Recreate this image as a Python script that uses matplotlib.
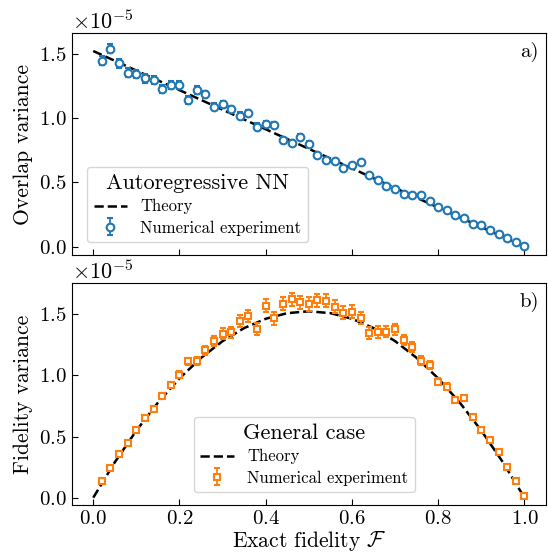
import matplotlib
matplotlib.use("Agg")
import matplotlib.pyplot as plt
import numpy as np

plt.rcParams['font.family'] = 'serif'
plt.rcParams['font.serif'] = ['cmr10', 'DejaVu Serif']
plt.rcParams['mathtext.fontset'] = 'cm'
plt.rcParams['axes.unicode_minus'] = False
plt.rcParams['axes.formatter.use_mathtext'] = True

# ---- data (values in units of 1e-5) ----
fid = [0.02, 0.04, 0.06, 0.08, 0.10, 0.12, 0.14, 0.16, 0.18, 0.20,
       0.22, 0.24, 0.26, 0.28, 0.30, 0.32, 0.34, 0.36, 0.38, 0.40,
       0.42, 0.44, 0.46, 0.48, 0.50, 0.52, 0.54, 0.56, 0.58, 0.60,
       0.62, 0.64, 0.66, 0.68, 0.70, 0.72, 0.74, 0.76, 0.78, 0.80,
       0.82, 0.84, 0.86, 0.88, 0.90, 0.92, 0.94, 0.96, 0.98, 1.00]

overlap_var = [1.449, 1.540, 1.430, 1.355, 1.343, 1.310, 1.300, 1.226, 1.260, 1.260,
               1.143, 1.220, 1.187, 1.090, 1.110, 1.070, 1.020, 1.040, 0.935, 0.955,
               0.948, 0.830, 0.810, 0.855, 0.800, 0.714, 0.675, 0.670, 0.613, 0.636,
               0.660, 0.558, 0.520, 0.473, 0.449, 0.408, 0.400, 0.403, 0.358, 0.307,
               0.286, 0.247, 0.221, 0.177, 0.169, 0.130, 0.099, 0.070, 0.037, 0.005]
overlap_err = [0.035, 0.035, 0.035, 0.033, 0.033, 0.032, 0.032, 0.031, 0.031, 0.030,
               0.030, 0.029, 0.029, 0.028, 0.028, 0.027, 0.027, 0.026, 0.026, 0.025,
               0.024, 0.023, 0.022, 0.021, 0.020, 0.018, 0.016, 0.015, 0.014, 0.013,
               0.012, 0.012, 0.011, 0.011, 0.010, 0.010, 0.010, 0.009, 0.009, 0.009,
               0.008, 0.008, 0.008, 0.007, 0.007, 0.007, 0.006, 0.006, 0.005, 0.005]

fidelity_var = [0.134, 0.240, 0.357, 0.450, 0.551, 0.650, 0.728, 0.832, 0.922, 1.007,
                1.116, 1.120, 1.206, 1.285, 1.342, 1.353, 1.448, 1.489, 1.378, 1.571,
                1.468, 1.585, 1.623, 1.599, 1.585, 1.614, 1.612, 1.563, 1.514, 1.522,
                1.468, 1.350, 1.358, 1.358, 1.378, 1.290, 1.236, 1.121, 1.086, 0.949,
                0.908, 0.800, 0.818, 0.658, 0.554, 0.472, 0.371, 0.254, 0.137, 0.016]
fidelity_err = [0.008, 0.010, 0.012, 0.014, 0.016, 0.018, 0.020, 0.022, 0.025, 0.028,
                0.030, 0.033, 0.036, 0.040, 0.043, 0.045, 0.048, 0.050, 0.050, 0.052,
                0.052, 0.053, 0.055, 0.055, 0.055, 0.055, 0.055, 0.053, 0.052, 0.052,
                0.050, 0.050, 0.048, 0.046, 0.044, 0.042, 0.040, 0.036, 0.033, 0.030,
                0.027, 0.024, 0.021, 0.018, 0.016, 0.014, 0.012, 0.010, 0.008, 0.006]

theory_a_x = [0.0, 1.0]
theory_a_y = [1.524, 0.0]

theory_b_x = [0.00, 0.05, 0.10, 0.15, 0.20, 0.25, 0.30, 0.35, 0.40, 0.45, 0.50,
              0.55, 0.60, 0.65, 0.70, 0.75, 0.80, 0.85, 0.90, 0.95, 1.00]
theory_b_y = [0.000, 0.290, 0.549, 0.778, 0.976, 1.144, 1.281, 1.388, 1.464, 1.510, 1.525,
              1.510, 1.464, 1.388, 1.281, 1.144, 0.976, 0.778, 0.549, 0.290, 0.000]

scale = 1e-5
fig = plt.figure(figsize=(5.48, 5.54), dpi=100)
ax1 = fig.add_axes([0.1308, 0.5397, 0.8656, 0.4002])
ax2 = fig.add_axes([0.1308, 0.0884, 0.8656, 0.4002], sharex=ax1)

blue = '#1f77b4'
orange = '#ff7f0e'

ax1.plot(theory_a_x, np.array(theory_a_y) * scale, 'k--', lw=1.8, label='Theory', zorder=3)
ax1.errorbar(fid, np.array(overlap_var) * scale, yerr=np.array(overlap_err) * scale,
             fmt='o', mfc='white', mec=blue, color=blue, ms=5.5, mew=1.5, capsize=2.5,
             elinewidth=1.3, capthick=1.3, label='Numerical experiment', zorder=4)

ax2.plot(theory_b_x, np.array(theory_b_y) * scale, 'k--', lw=1.8, label='Theory', zorder=3)
ax2.errorbar(fid, np.array(fidelity_var) * scale, yerr=np.array(fidelity_err) * scale,
             fmt='s', mfc='white', mec=orange, color=orange, ms=5, mew=1.5, capsize=2.5,
             elinewidth=1.3, capthick=1.3, label='Numerical experiment', zorder=4)

ax1.set_xlim(-0.05, 1.05)
ax1.set_ylim(-0.065e-5, 1.662e-5)
ax2.set_ylim(-0.06e-5, 1.754e-5)

for ax in (ax1, ax2):
    ax.tick_params(direction='in', labelsize=15, length=4)
    ax.set_yticks([0.0, 0.5e-5, 1.0e-5, 1.5e-5])
    ax.yaxis.get_offset_text().set_fontsize(16)
ax2.set_xticks([0.0, 0.2, 0.4, 0.6, 0.8, 1.0])
plt.setp(ax1.get_xticklabels(), visible=False)

ax1.set_ylabel('Overlap variance', fontsize=15.5, labelpad=4)
ax2.set_ylabel('Fidelity variance', fontsize=15.5, labelpad=4)
ax2.set_xlabel(r'Exact fidelity $\mathcal{F}$', fontsize=15.5, labelpad=1)

ax1.text(0.985, 0.96, 'a)', transform=ax1.transAxes, ha='right', va='top', fontsize=15)
ax2.text(0.985, 0.96, 'b)', transform=ax2.transAxes, ha='right', va='top', fontsize=15)

leg1 = ax1.legend(loc='lower left', title='Autoregressive NN', fontsize=12,
                  title_fontsize=16, bbox_to_anchor=(0.015, 0.02), labelspacing=0.35)
leg2 = ax2.legend(loc='lower center', title='General case', fontsize=12,
                  title_fontsize=16, bbox_to_anchor=(0.49, 0.02), labelspacing=0.35)

fig.savefig('out.png', dpi=100)
